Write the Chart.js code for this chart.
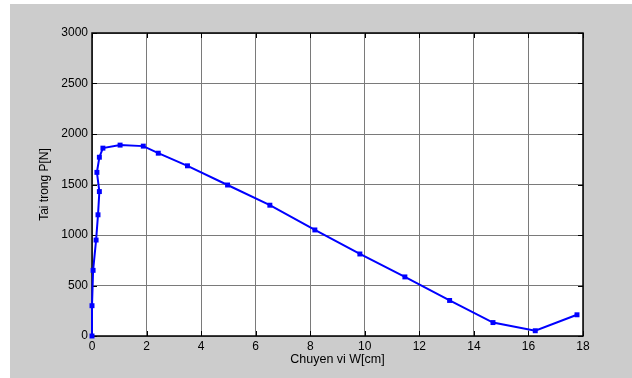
<!DOCTYPE html>
<html>
<head>
<meta charset="utf-8">
<script src="https://cdn.jsdelivr.net/npm/chart.js@4/dist/chart.umd.min.js"></script>
<style>
  html, body { margin: 0; padding: 0; background: #ffffff; }
  #wrap { width: 632px; height: 378px; position: relative; }
</style>
</head>
<body>
<div id="wrap"><canvas id="c" width="632" height="378"></canvas></div>
<script>
// Data (displacement W [cm], load P [N])
const displacementW = [0, 0, 0.04, 0.15, 0.22, 0.27, 0.18, 0.27, 0.40, 1.03, 1.88, 2.43, 3.50, 4.97, 6.52, 8.17, 9.82, 11.47, 13.11, 14.70, 16.25, 17.78];
const loadP = [0, 300, 650, 950, 1200, 1430, 1620, 1770, 1860, 1890, 1880, 1810, 1685, 1495, 1295, 1050, 812, 585, 352, 133, 52, 210];
const xTicks = [0, 2, 4, 6, 8, 10, 12, 14, 16, 18];
const yTicks = [0, 500, 1000, 1500, 2000, 2500, 3000];
const xTitle = 'Chuyen vi W[cm]';
const yTitle = 'Tai trong P[N]';

const points = displacementW.map((w, i) => ({ x: w, y: loadP[i] }));
const FONT = "'Liberation Sans', Arial, sans-serif";

const framePlugin = {
  id: 'frame',
  beforeDraw(chart) {
    const ctx = chart.ctx;
    ctx.save();
    ctx.fillStyle = '#ffffff';
    ctx.fillRect(0, 0, chart.width, chart.height);
    ctx.fillStyle = '#cccccc';
    ctx.fillRect(10, 4, chart.width - 10, chart.height - 4);
    const a = chart.chartArea;
    ctx.fillStyle = '#ffffff';
    ctx.fillRect(a.left, a.top, a.right - a.left, a.bottom - a.top);
    ctx.restore();
  },
  beforeDatasetsDraw(chart) {
    const ctx = chart.ctx;
    const a = chart.chartArea;
    const xs = chart.scales.x, ys = chart.scales.y;
    ctx.save();
    ctx.strokeStyle = '#000000';
    ctx.lineWidth = 1;
    ctx.beginPath();
    xTicks.forEach(t => {
      const px = Math.round(xs.getPixelForValue(t)) + 0.5;
      ctx.moveTo(px, a.bottom); ctx.lineTo(px, a.bottom - 5);
      ctx.moveTo(px, a.top); ctx.lineTo(px, a.top + 5);
    });
    yTicks.forEach(t => {
      const py = Math.round(ys.getPixelForValue(t)) + 0.5;
      ctx.moveTo(a.left, py); ctx.lineTo(a.left + 5, py);
      ctx.moveTo(a.right, py); ctx.lineTo(a.right - 5, py);
    });
    ctx.stroke();
    ctx.lineWidth = 1.5;
    ctx.strokeRect(a.left, a.top, a.right - a.left, a.bottom - a.top);
    // titles
    ctx.fillStyle = '#000000';
    ctx.font = '12.5px ' + FONT;
    ctx.textAlign = 'center';
    ctx.textBaseline = 'middle';
    ctx.fillText(xTitle, (a.left + a.right) / 2, 360);
    ctx.font = '12px ' + FONT;
    ctx.translate(45, (a.top + a.bottom) / 2);
    ctx.rotate(-Math.PI / 2);
    ctx.fillText(yTitle, 0, 0);
    ctx.restore();
  }
};

new Chart(document.getElementById('c'), {
  type: 'scatter',
  data: {
    datasets: [{
      data: points,
      showLine: true,
      clip: false,
      borderColor: '#0000ff',
      backgroundColor: '#0000ff',
      borderWidth: 2,
      pointStyle: 'rect',
      pointRadius: 3.5,
      pointHoverRadius: 3.5,
      pointBorderWidth: 0,
      tension: 0
    }]
  },
  options: {
    responsive: false,
    animation: false,
    devicePixelRatio: 1,
    layout: { padding: { top: 33, right: 49, left: 10, bottom: 0 } },
    plugins: { legend: { display: false }, tooltip: { enabled: false } },
    scales: {
      x: {
        type: 'linear',
        min: 0, max: 18,
        afterBuildTicks(s) { s.ticks = xTicks.map(v => ({ value: v })); },
        afterFit(s) { s.height = 42; },
        grid: { color: '#7a7a7a', lineWidth: 1, drawTicks: false },
        border: { display: false },
        ticks: { color: '#000', padding: 3, font: { family: FONT, size: 12 }, maxRotation: 0,
                 callback: v => String(v) }
      },
      y: {
        type: 'linear',
        min: 0, max: 3000,
        afterBuildTicks(s) { s.ticks = yTicks.map(v => ({ value: v })); },
        afterFit(s) { s.width = 82; },
        grid: { color: '#7a7a7a', lineWidth: 1, drawTicks: false },
        border: { display: false },
        ticks: { color: '#000', padding: 4, font: { family: FONT, size: 12 },
                 callback: v => String(v) }
      }
    }
  },
  plugins: [framePlugin]
});
</script>
</body>
</html>
